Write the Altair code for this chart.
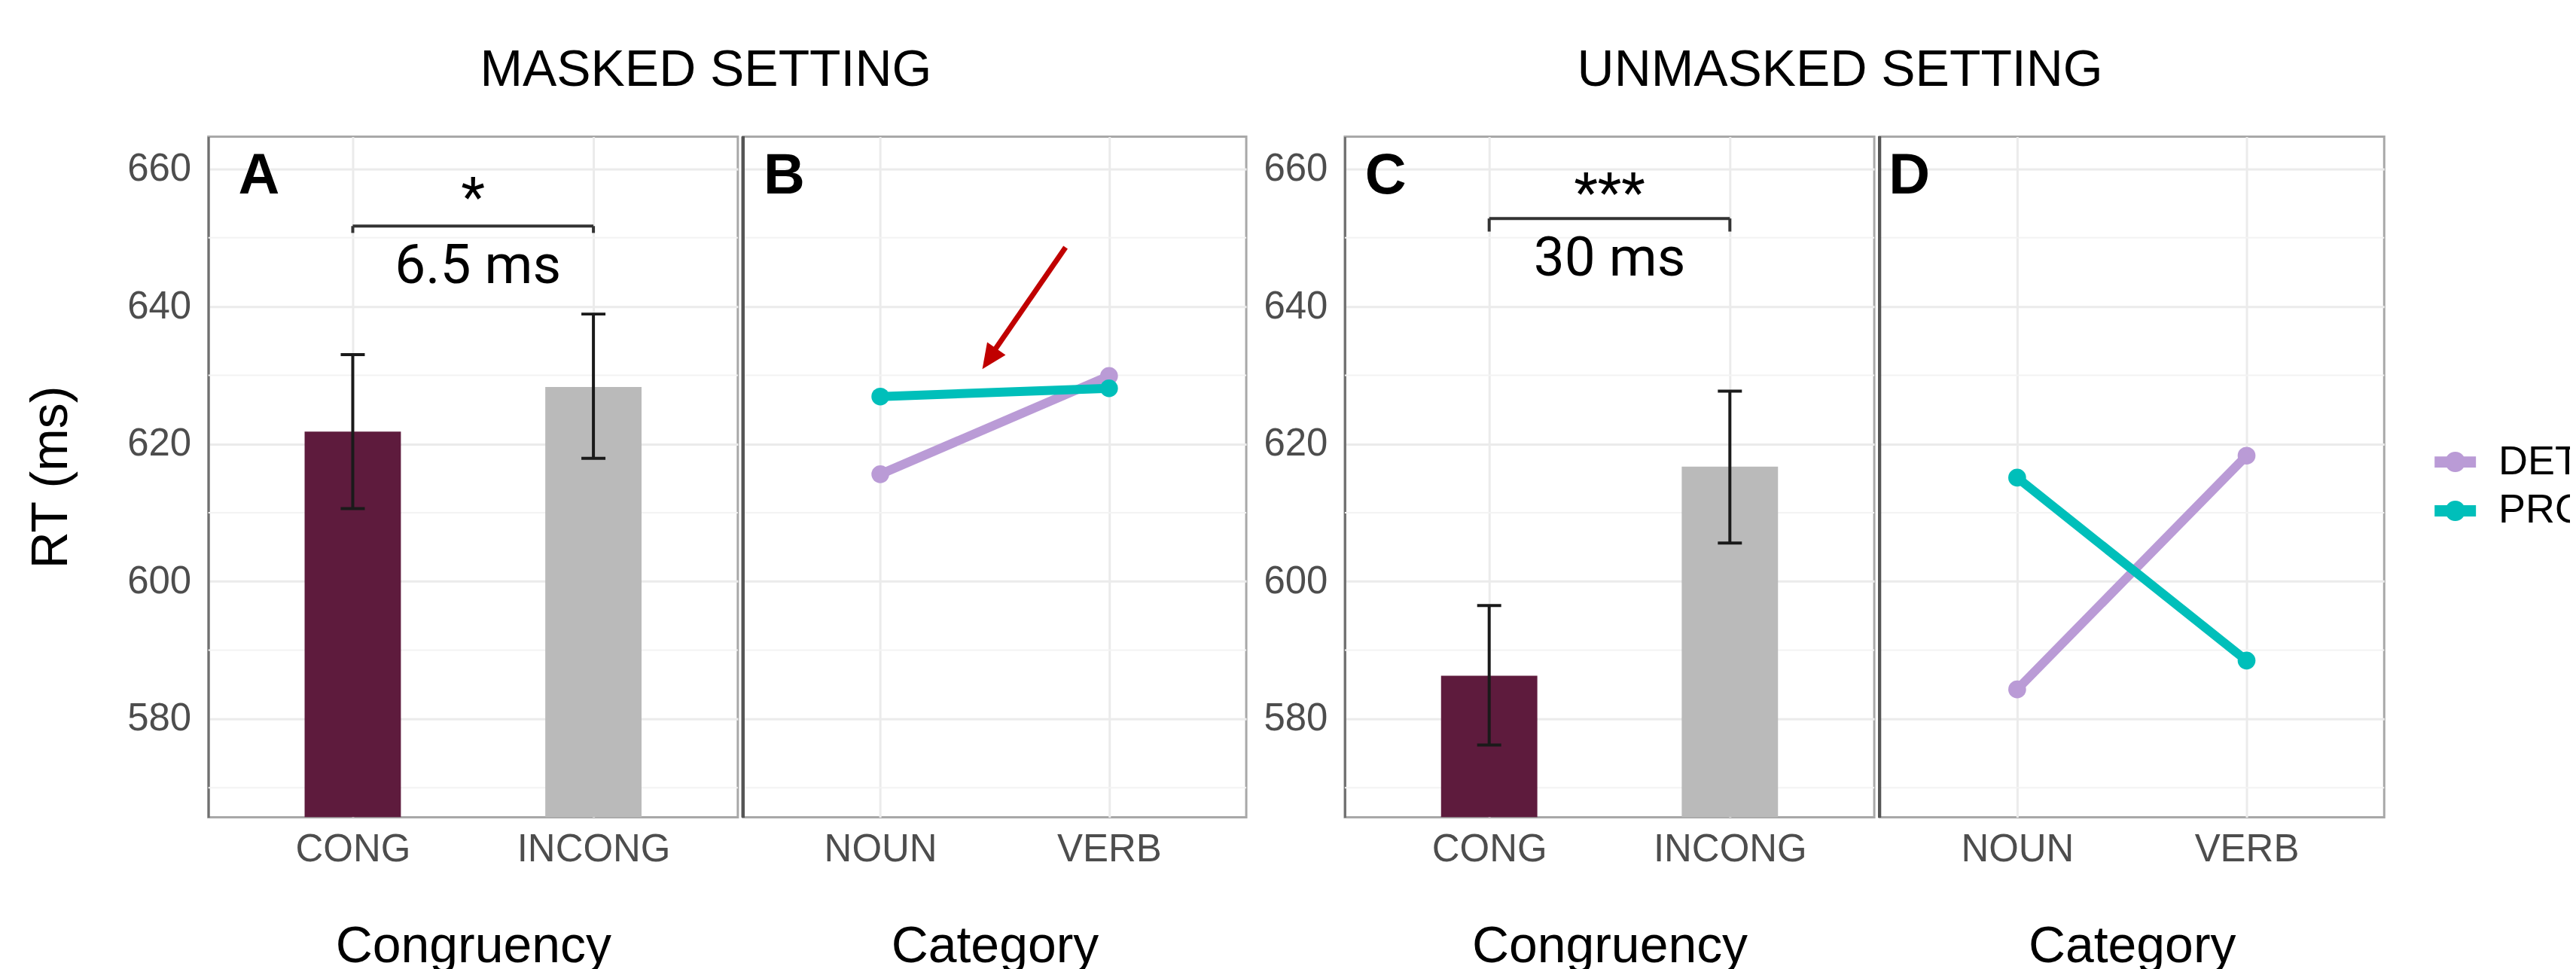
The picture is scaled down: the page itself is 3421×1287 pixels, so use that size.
import json
import altair as alt
import pandas as pd

FONT = "Liberation Sans"
ANNOT_FONT = "Roboto"

# ---------------- data ----------------
congruency = ["CONG", "INCONG"]
category = ["NOUN", "VERB"]
word_class = ["DET", "PRO"]
positions = [1, 2]

masked_rt = [621.8, 628.3]
masked_ci_low = [610.6, 617.9]
masked_ci_high = [633.0, 638.9]
unmasked_rt = [586.3, 616.7]
unmasked_ci_low = [576.2, 605.6]
unmasked_ci_high = [596.5, 627.7]

masked_det = [615.6, 629.9]
masked_pro = [626.9, 628.1]
unmasked_det = [584.3, 618.3]
unmasked_pro = [615.1, 588.5]

y_major = [580, 600, 620, 640, 660]
y_minor = [570, 590, 610, 630, 650]
y_domain = [565.7, 664.7]
x_domain = [0.4, 2.6]

panel_letters = ["A", "B", "C", "D"]
panel_letter_x = [0.61, 0.58, 0.57, 0.53]
panel_letter_y = [658.9, 658.9, 658.9, 658.9]

sig_labels = ["*", "***"]
diff_labels = ["6.5 ms", "30 ms"]
bracket_y = [651.7, 652.8]
bracket_end_y = [650.7, 650.9]
sig_y = [653.2, 653.8]
diff_x = [1.52, 1.5]
diff_y = [643.4, 644.5]

arrow_x = [1.81, 1.48]
arrow_y = [648.6, 632.7]
arrow_tip_x = [1.446]
arrow_tip_y = [630.9]

bar_colors = ["#5E1B3D", "#BABABA"]
line_colors = ["#BA9BD6", "#00BFBA"]

# ---------------- style ----------------
GRID = "#EBEBEB"
MINOR = "#F3F3F3"
H = 905
LABEL_SIZE = 51
TITLE_SIZE = 68


def x_enc(field, labels, title):
    return alt.X(
        f"{field}:Q",
        scale=alt.Scale(domain=x_domain, nice=False, zero=False),
        axis=alt.Axis(
            values=positions,
            labelExpr=f"{json.dumps(labels)}[datum.value - 1]",
            title=title,
            grid=True, gridColor=GRID, gridWidth=3,
            ticks=False, tickSize=0, domain=False,
            labelFontSize=LABEL_SIZE, labelColor="#4D4D4D", labelFont=FONT,
            labelPadding=18, labelAngle=0, labelLimit=600,
            titleFont=FONT, titleFontSize=TITLE_SIZE, titleFontWeight="normal",
            titleColor="black", titlePadding=70,
        ),
    )


def y_enc(field, show_labels, title):
    return alt.Y(
        f"{field}:Q",
        scale=alt.Scale(domain=y_domain, nice=False, zero=False),
        axis=alt.Axis(
            values=y_major,
            title=title,
            grid=True, gridColor=GRID, gridWidth=3,
            ticks=False, tickSize=0,
            domain=show_labels, domainColor="#707070", domainWidth=3,
            labels=show_labels,
            labelFontSize=LABEL_SIZE, labelColor="#4D4D4D", labelFont=FONT,
            labelPadding=23,
            titleFont=FONT, titleFontSize=TITLE_SIZE, titleFontWeight="normal",
            titleColor="black", titlePadding=66,
        ),
    )


legend = alt.Legend(
    title=None,
    orient="none",
    legendX=2960,
    legendY=405,
    padding=0,
    symbolType="M-1,-0.27 L1,-0.27 L1,0.27 L-1,0.27 Z M0.49,0 A0.49,0.49 0 1,1 -0.49,0 A0.49,0.49 0 1,1 0.49,0 Z",
    symbolSize=3025,
    symbolStrokeWidth=0,
    symbolOpacity=1,
    labelFont=FONT,
    labelFontSize=54,
    labelColor="black",
    labelOffset=30,
    rowPadding=10,
)


def minor_layer(labels, xtitle, show_y, ytitle):
    df = pd.DataFrame({"v": y_minor})
    return alt.Chart(df).mark_rule(color=MINOR, strokeWidth=2).encode(
        y=y_enc("v", show_y, ytitle)
    )


def letter_layer(i, labels, xtitle, show_y, ytitle):
    df = pd.DataFrame({"x": [panel_letter_x[i]], "y": [panel_letter_y[i]],
                       "t": [panel_letters[i]]})
    return alt.Chart(df).mark_text(
        font=FONT, fontSize=76, fontWeight="bold", color="black",
        align="center", baseline="middle"
    ).encode(x=x_enc("x", labels, xtitle), y=y_enc("y", show_y, ytitle), text="t:N")


def bar_panel(i, k, rt, lo, hi, width, ytitle):
    labels, xtitle, show_y = congruency, "Congruency", True
    X = lambda f: x_enc(f, labels, xtitle)
    Y = lambda f: y_enc(f, show_y, ytitle)

    bars = pd.DataFrame({
        "pos": positions, "cond": congruency, "rt": rt, "lo": lo, "hi": hi,
    })
    bars["left"] = bars["pos"] - 0.2
    bars["right"] = bars["pos"] + 0.2
    bars["base"] = y_domain[0]
    caps = pd.DataFrame({
        "l": [p - 0.05 for p in positions] * 2,
        "r": [p + 0.05 for p in positions] * 2,
        "y": list(lo) + list(hi),
    })
    brk = pd.DataFrame({
        "x": [positions[0], positions[0], positions[1]],
        "x2": [positions[1], positions[0], positions[1]],
        "y": [bracket_y[k]] * 3,
        "y2": [bracket_y[k], bracket_end_y[k], bracket_end_y[k]],
    })
    sig = pd.DataFrame({"x": [sum(positions) / 2], "y": [sig_y[k]], "t": [sig_labels[k]]})
    diff = pd.DataFrame({"x": [diff_x[k]], "y": [diff_y[k]], "t": [diff_labels[k]]})

    layers = [
        minor_layer(labels, xtitle, show_y, ytitle),
        alt.Chart(bars).mark_bar(clip=True).encode(
            x=X("left"), x2="right", y=Y("rt"), y2="base",
            fill=alt.Fill("cond:N", scale=alt.Scale(domain=congruency, range=bar_colors),
                          legend=None),
        ),
        alt.Chart(bars).mark_rule(color="#1A1A1A", strokeWidth=4).encode(
            x=X("pos"), y=Y("lo"), y2="hi"),
        alt.Chart(caps).mark_rule(color="#1A1A1A", strokeWidth=4).encode(
            x=X("l"), x2="r", y=Y("y")),
        alt.Chart(brk).mark_rule(color="#333333", strokeWidth=4).encode(
            x=X("x"), x2="x2", y=Y("y"), y2="y2"),
        alt.Chart(sig).mark_text(font=ANNOT_FONT, fontSize=73, color="black",
                                 align="center", baseline="alphabetic").encode(
            x=X("x"), y=Y("y"), text="t:N"),
        alt.Chart(diff).mark_text(font=ANNOT_FONT, fontSize=73, color="black",
                                  align="center", baseline="alphabetic").encode(
            x=X("x"), y=Y("y"), text="t:N"),
        letter_layer(i, labels, xtitle, show_y, ytitle),
    ]
    return alt.layer(*layers).properties(width=width, height=H)


def line_panel(i, det, pro, width, with_arrow):
    labels, xtitle, show_y, ytitle = category, "Category", False, None
    X = lambda f: x_enc(f, labels, xtitle)
    Y = lambda f: y_enc(f, show_y, ytitle)

    df = pd.DataFrame({
        "pos": positions * 2,
        "cls": [word_class[0]] * 2 + [word_class[1]] * 2,
        "v": list(det) + list(pro),
    })
    color = alt.Color("cls:N", scale=alt.Scale(domain=word_class, range=line_colors),
                      legend=legend)
    layers = [
        minor_layer(labels, xtitle, show_y, ytitle),
        alt.Chart(df).mark_rule(color="#555555", strokeWidth=4).encode(
            x=alt.value(0), y=alt.value(0), y2=alt.value(H)),
        alt.Chart(df).mark_line(strokeWidth=12).encode(x=X("pos"), y=Y("v"), color=color),
        alt.Chart(df).mark_circle(size=560, opacity=1).encode(x=X("pos"), y=Y("v"), color=color),
    ]
    if with_arrow:
        arr = pd.DataFrame({"x": [arrow_x[0]], "x2": [arrow_x[1]],
                            "y": [arrow_y[0]], "y2": [arrow_y[1]]})
        tip = pd.DataFrame({"x": arrow_tip_x, "y": arrow_tip_y})
        layers += [
            alt.Chart(arr).mark_rule(color="#C00000", strokeWidth=7).encode(
                x=X("x"), x2="x2", y=Y("y"), y2="y2"),
            alt.Chart(tip).mark_point(shape="M0,0 L0.9,2 L-0.9,2 Z", filled=True,
                                      color="#C00000", opacity=1, size=1089,
                                      angle=214.5).encode(x=X("x"), y=Y("y")),
        ]
    layers.append(letter_layer(i, labels, xtitle, show_y, ytitle))
    return alt.layer(*layers).properties(width=width, height=H)


def group_title(text, dx):
    return alt.TitleParams(text=text, fontSize=TITLE_SIZE, font=FONT, fontWeight="normal",
                           color="black", anchor="middle", offset=50, dx=dx)


panel_a = bar_panel(0, 0, masked_rt, masked_ci_low, masked_ci_high, 704, "RT (ms)")
panel_b = line_panel(1, masked_det, masked_pro, 669, True)
panel_c = bar_panel(2, 1, unmasked_rt, unmasked_ci_low, unmasked_ci_high, 704, "")
panel_d = line_panel(3, unmasked_det, unmasked_pro, 671, False)

left = alt.hconcat(panel_a, panel_b, spacing=0).properties(
    title=group_title("MASKED SETTING", 92))
right = alt.hconcat(panel_c, panel_d, spacing=0).properties(
    title=group_title("UNMASKED SETTING", 21))

chart = (
    alt.hconcat(left, right, spacing=18)
    .resolve_scale(color="shared")
    .properties(padding={"left": 25, "top": 51, "right": -23, "bottom": 5})
    .configure(font=FONT)
    .configure_view(stroke="#A8A8A8", strokeWidth=3)
)

chart.save("out.html", embed_options={"renderer": "svg", "actions": False})
